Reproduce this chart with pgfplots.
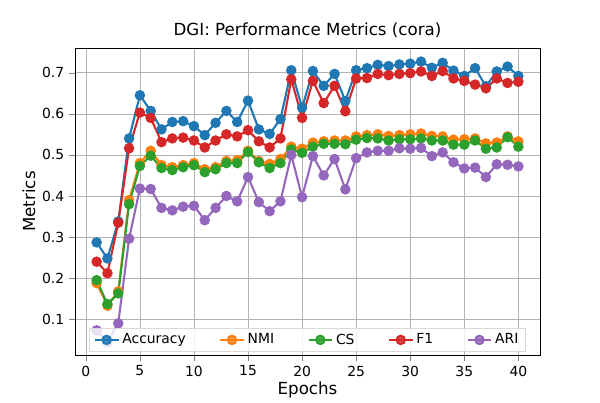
\documentclass[border=0pt]{standalone}
\usepackage{pgfplots}
\pgfplotsset{compat=1.18}
\usepackage{fontspec}
\setmainfont{DejaVu Sans}
\definecolor{c1}{HTML}{1F77B4}
\definecolor{c2}{HTML}{FF7F0E}
\definecolor{c3}{HTML}{2CA02C}
\definecolor{c4}{HTML}{D62728}
\definecolor{c5}{HTML}{9467BD}
\begin{document}
\begin{tikzpicture}
\begin{axis}[
  at={(0,0)}, anchor=south west,
  scale only axis, width=334.8pt, height=221pt,
  xmin=-1, xmax=42, ymin=0.013, ymax=0.76,
  xtick={0,5,...,40}, ytick={0.1,0.2,...,0.71},
  yticklabel style={/pgf/number format/fixed,/pgf/number format/precision=1},
  /pgf/number format/assume math mode=true,
  tick label style={font=\fontsize{10}{12}\selectfont},
  grid=major, grid style={gray!60},
  tick align=outside, tick pos=left,
  title={DGI: Performance Metrics (cora)},
  title style={font=\fontsize{12}{14}\selectfont, yshift=-2pt},
  xlabel={Epochs}, ylabel={Metrics},
  xlabel style={yshift=3pt}, ylabel style={yshift=-2pt},
  label style={font=\fontsize{12}{14}\selectfont},
  every axis plot/.append style={line width=1.5pt, mark=*, mark size=3pt},
  legend style={at={(0.5,0.01)}, anchor=south, legend columns=5, font=\fontsize{10}{12}\selectfont, draw=gray!30, fill=white, fill opacity=0.8, text opacity=1, /tikz/every even column/.append style={column sep=22pt}},
  legend cell align=left,
]
\addplot[c1] coordinates {(1,0.287)(2,0.248)(3,0.338)(4,0.54)(5,0.645)(6,0.607)(7,0.562)(8,0.58)(9,0.582)(10,0.57)(11,0.548)(12,0.578)(13,0.607)(14,0.58)(15,0.632)(16,0.562)(17,0.551)(18,0.587)(19,0.706)(20,0.615)(21,0.704)(22,0.668)(23,0.697)(24,0.631)(25,0.706)(26,0.711)(27,0.719)(28,0.716)(29,0.72)(30,0.722)(31,0.727)(32,0.712)(33,0.724)(34,0.705)(35,0.692)(36,0.711)(37,0.667)(38,0.703)(39,0.715)(40,0.692)};
\addlegendentry{Accuracy}
\addplot[c2] coordinates {(1,0.188)(2,0.133)(3,0.168)(4,0.39)(5,0.48)(6,0.51)(7,0.475)(8,0.47)(9,0.475)(10,0.48)(11,0.465)(12,0.47)(13,0.485)(14,0.487)(15,0.51)(16,0.485)(17,0.478)(18,0.49)(19,0.52)(20,0.515)(21,0.53)(22,0.533)(23,0.535)(24,0.535)(25,0.545)(26,0.548)(27,0.55)(28,0.546)(29,0.548)(30,0.55)(31,0.552)(32,0.546)(33,0.545)(34,0.537)(35,0.538)(36,0.54)(37,0.528)(38,0.53)(39,0.545)(40,0.533)};
\addlegendentry{NMI}
\addplot[c3] coordinates {(1,0.195)(2,0.137)(3,0.163)(4,0.38)(5,0.473)(6,0.498)(7,0.468)(8,0.463)(9,0.47)(10,0.475)(11,0.458)(12,0.465)(13,0.48)(14,0.48)(15,0.507)(16,0.482)(17,0.468)(18,0.48)(19,0.513)(20,0.505)(21,0.52)(22,0.527)(23,0.527)(24,0.526)(25,0.537)(26,0.541)(27,0.54)(28,0.535)(29,0.538)(30,0.538)(31,0.54)(32,0.535)(33,0.535)(34,0.525)(35,0.525)(36,0.535)(37,0.515)(38,0.518)(39,0.543)(40,0.52)};
\addlegendentry{CS}
\addplot[c4] coordinates {(1,0.24)(2,0.212)(3,0.335)(4,0.516)(5,0.603)(6,0.59)(7,0.531)(8,0.54)(9,0.542)(10,0.535)(11,0.518)(12,0.535)(13,0.55)(14,0.545)(15,0.56)(16,0.533)(17,0.518)(18,0.54)(19,0.684)(20,0.59)(21,0.68)(22,0.626)(23,0.668)(24,0.606)(25,0.686)(26,0.687)(27,0.697)(28,0.694)(29,0.697)(30,0.699)(31,0.703)(32,0.692)(33,0.704)(34,0.686)(35,0.68)(36,0.671)(37,0.662)(38,0.686)(39,0.675)(40,0.678)};
\addlegendentry{F1}
\addplot[c5] coordinates {(1,0.073)(2,0.044)(3,0.09)(4,0.296)(5,0.418)(6,0.417)(7,0.371)(8,0.365)(9,0.374)(10,0.376)(11,0.341)(12,0.371)(13,0.4)(14,0.387)(15,0.446)(16,0.385)(17,0.363)(18,0.387)(19,0.5)(20,0.397)(21,0.497)(22,0.45)(23,0.49)(24,0.416)(25,0.492)(26,0.506)(27,0.51)(28,0.51)(29,0.516)(30,0.515)(31,0.517)(32,0.497)(33,0.506)(34,0.482)(35,0.467)(36,0.469)(37,0.446)(38,0.477)(39,0.476)(40,0.472)};
\addlegendentry{ARI}
\end{axis}
\path (-54pt,-32.4pt) rectangle (378pt,255.6pt);
\end{tikzpicture}
\end{document}
